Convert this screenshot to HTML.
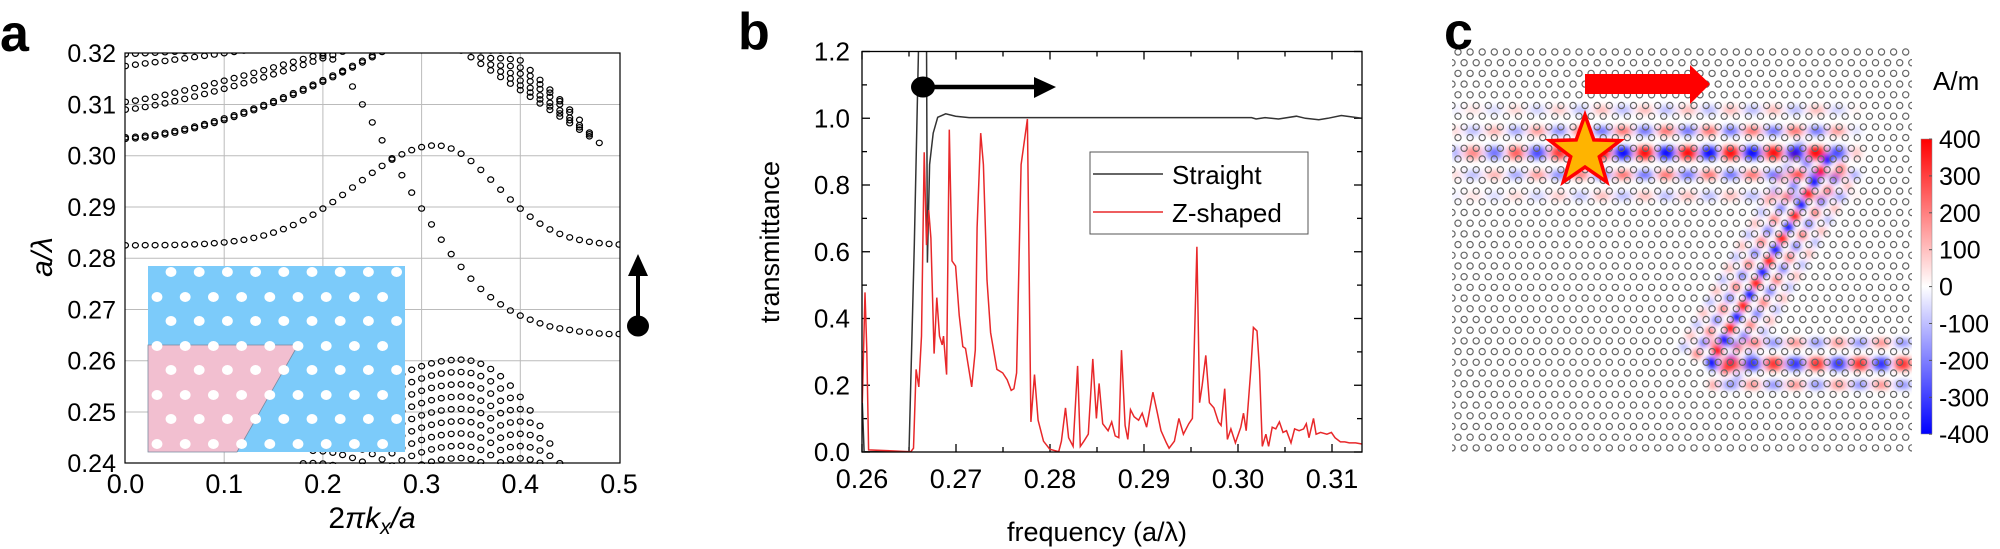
<!DOCTYPE html>
<html><head><meta charset="utf-8"><style>
html,body{margin:0;padding:0;background:#fff;overflow:hidden;width:2000px;height:549px;}
svg{display:block;font-family:"Liberation Sans",sans-serif;}
</style></head><body>
<svg id="s" width="2000" height="549" viewBox="0 0 2000 549" xmlns="http://www.w3.org/2000/svg">
<defs>
<clipPath id="ca"><rect x="125" y="53" width="495" height="411"/></clipPath>
<clipPath id="cb"><rect x="862" y="51" width="500" height="402"/></clipPath>
<clipPath id="cc"><rect x="1452" y="48" width="460" height="407"/></clipPath>
<filter id="bl" x="-50%" y="-50%" width="200%" height="200%"><feGaussianBlur stdDeviation="2.6"/></filter>
<linearGradient id="cbar" x1="0" y1="0" x2="0" y2="1">
<stop offset="0" stop-color="#ff0000"/><stop offset="0.5" stop-color="#ffffff"/><stop offset="1" stop-color="#0000ff"/>
</linearGradient>
</defs>
<g id="g"></g>
<text x="0" y="51" font-size="52" font-weight="bold">a</text>
<text x="738" y="49" font-size="52" font-weight="bold">b</text>
<text x="1444" y="49" font-size="52" font-weight="bold">c</text>
</svg>
<script>
var S=document.getElementById('g'),h='';
function X(k){return 125.5+k*987}function Y(w){return 463.2-(w-0.24)*5125}
for(var i=1;i<5;i++){h+='<line x1="'+X(i/10)+'" y1="53" x2="'+X(i/10)+'" y2="463" stroke="#bbb" stroke-width="1"/>';}
for(var i=1;i<8;i++){var y=Y(0.24+i*0.01);h+='<line x1="125" y1="'+y+'" x2="620" y2="'+y+'" stroke="#bbb" stroke-width="1"/>';}
var pts=[];
function add(k,w){pts.push([k,w]);}
for(var k=0;k<=0.5001;k+=0.01){var wd=k<0.315?0.115:0.085;add(k,0.2825+0.0195*Math.exp(-Math.pow((k-0.315)/wd,2)));}
var b2=[[0.20,0.3195],[0.21,0.3188],[0.22,0.3165],[0.23,0.3135],[0.24,0.310],[0.25,0.3065],[0.26,0.303],[0.27,0.2995],[0.28,0.2962],[0.29,0.2928],[0.30,0.2897],[0.31,0.2866],[0.32,0.2836],[0.33,0.2808],[0.34,0.2783],[0.35,0.276],[0.36,0.274],[0.37,0.2724],[0.38,0.271],[0.39,0.2698],[0.40,0.2688],[0.41,0.268],[0.42,0.2673],[0.43,0.2667],[0.44,0.2663],[0.45,0.266],[0.46,0.2657],[0.47,0.2655],[0.48,0.2653],[0.49,0.2652],[0.50,0.2652]];
b2.forEach(function(p){add(p[0],p[1]);});
for(var k=0;k<=0.30;k+=0.01){add(k,0.3033+0.018*Math.pow(k/0.27,1.6));add(k,0.3036+0.018*Math.pow(k/0.27,1.6));
add(k,0.309+0.010*Math.pow(k/0.2,1.3));add(k,0.3105+0.0095*Math.pow(k/0.2,1.2));add(k,0.3175+0.025*k);add(k,0.3198+0.01*k);}
[[0.34,0.48,0.3025],[0.35,0.475,0.3035],[0.36,0.47,0.3045],[0.37,0.46,0.307],[0.38,0.45,0.309],[0.39,0.44,0.311]].forEach(function(b){
for(var k=b[0];k<=b[1]+0.001;k+=0.01){var t=(k-b[0])/(b[1]-b[0]);add(k,0.3205-(0.3205-b[2])*t);}});
for(var i=0;i<9;i++){var wp=0.2602-0.0024*i;for(var k=0.17;k<=0.45;k+=0.01){var a=k<0.34?0.79:2.02;var w=wp-a*(k-0.34)*(k-0.34);if(w>=0.2395)add(k,w);}}
h+='<g clip-path="url(#ca)" fill="none" stroke="#000" stroke-width="1.2">';
pts.forEach(function(p){var y=Y(p[1]);h+='<ellipse cx="'+X(p[0]).toFixed(1)+'" cy="'+y.toFixed(1)+'" rx="3" ry="2.7"/>';});
h+='</g>';
h+='<rect x="148" y="266" width="257" height="186" fill="#7ccbfa"/>';
h+='<polygon points="148,345 298,345 237,452 148,452" fill="#f2bfd0" stroke="#7a8aa0" stroke-width="0.8"/>';
var rows=[272,297,321,346,370,395,419,444];
rows.forEach(function(y,r){var x0=r%2==0?171:157;for(var x=x0;x<=400;x+=28.2){h+='<ellipse cx="'+x.toFixed(1)+'" cy="'+y+'" rx="5.4" ry="5" fill="#fff"/>';}});
h+='<rect x="125" y="53" width="495" height="410" fill="none" stroke="#000" stroke-width="1.2"/>';
['0.24','0.25','0.26','0.27','0.28','0.29','0.30','0.31','0.32'].forEach(function(t,i){h+='<text x="116" y="'+(Y(0.24+i*0.01)+9)+'" font-size="25" text-anchor="end">'+t+'</text>';});
['0.0','0.1','0.2','0.3','0.4','0.5'].forEach(function(t,i){h+='<text x="'+X(i/10)+'" y="493" font-size="27" text-anchor="middle">'+t+'</text>';});
h+='<text x="372" y="528" font-size="30" text-anchor="middle">2<tspan font-style="italic">πk</tspan><tspan font-style="italic" font-size="21" dy="6">x</tspan><tspan font-style="italic" dy="-6">/a</tspan></text>';
h+='<text transform="translate(52,257) rotate(-90)" font-size="30" text-anchor="middle" font-style="italic">a/λ</text>';
h+='<line x1="638" y1="326" x2="638" y2="272" stroke="#000" stroke-width="4"/><polygon points="638,254 628,276 648,276" fill="#000"/><ellipse cx="638" cy="326" rx="11" ry="10.5" fill="#000"/>';
// panel b
function BX(zx){return 700+zx/2.23}function BY(zy){return zy/2.856}
function fx(f){return 862+(f-0.26)*9400}function ty(t){return 452-t*333.75}
for(var i=0;i<=12;i++){var y=ty(i*0.1),L=i%2==0?8:5;h+='<line x1="862" y1="'+y+'" x2="'+(862+L)+'" y2="'+y+'" stroke="#000" stroke-width="1.3"/><line x1="1362" y1="'+y+'" x2="'+(1362-L)+'" y2="'+y+'" stroke="#000" stroke-width="1.3"/>';}
for(var i=0;i<=10;i++){var x=fx(0.26+i*0.005),L=i%2==0?8:5;h+='<line x1="'+x+'" y1="452" x2="'+x+'" y2="'+(452-L)+'" stroke="#000" stroke-width="1.3"/><line x1="'+x+'" y1="51.5" x2="'+x+'" y2="'+(51.5+L)+'" stroke="#000" stroke-width="1.3"/>';}
var red=[[362,1150],[368,835],[372,1000],[376,1285],[470,1290],[476,1280],[482,1055],[488,1105],[494,960],[500,435],[505,700],[510,600],[515,680],[522,1010],[528,850],[534,960],[540,985],[543,960],[550,1070],[556,370],[562,745],[570,760],[578,900],[586,990],[592,995],[606,1105],[614,1000],[618,650],[626,380],[632,470],[640,800],[648,950],[662,1055],[675,1065],[685,1085],[694,1115],[700,1110],[706,1065],[716,470],[730,340],[738,1205],[746,1070],[754,1200],[766,1260],[780,1283],[800,1290],[806,1260],[815,1165],[822,1250],[832,1275],[842,1045],[848,1275],[856,1260],[866,1240],[876,1025],[884,1195],[890,1095],[898,1210],[910,1230],[918,1205],[926,1245],[934,1250],[940,1000],[948,1215],[954,1255],[960,1170],[968,1190],[978,1200],[986,1180],[996,1220],[1010,1120],[1020,1180],[1028,1230],[1040,1265],[1046,1280],[1058,1260],[1068,1195],[1078,1240],[1090,1210],[1098,1195],[1108,705],[1114,1150],[1120,1100],[1128,1015],[1136,1150],[1146,1165],[1156,1205],[1162,1215],[1170,1110],[1176,1255],[1184,1225],[1194,1265],[1206,1220],[1212,1180],[1218,1230],[1228,1060],[1234,935],[1242,945],[1248,1060],[1254,1275],[1262,1240],[1268,1275],[1276,1220],[1284,1225],[1292,1205],[1300,1235],[1308,1230],[1318,1265],[1326,1225],[1336,1230],[1346,1225],[1352,1210],[1358,1250],[1368,1195],[1374,1240],[1384,1235],[1398,1240],[1408,1235],[1416,1250],[1428,1262],[1438,1262],[1448,1265],[1462,1265],[1476,1268]];
var blk=[[362,1150],[366,1290],[466,1290],[478,700],[488,100],[505,100],[507,750],[512,470],[520,380],[530,335],[548,325],[570,332],[600,336],[1230,336],[1240,340],[1260,336],[1290,340],[1330,332],[1350,338],[1380,342],[1400,338],[1430,330],[1476,338]];
function pl(a){return a.map(function(p){return BX(p[0]).toFixed(1)+','+BY(p[1]).toFixed(1)}).join(' ');}
h+='<g clip-path="url(#cb)"><polyline points="'+pl(blk)+'" fill="none" stroke="#333" stroke-width="1.5"/><polyline points="'+pl(red)+'" fill="none" stroke="#e8282a" stroke-width="1.5"/></g>';
h+='<rect x="862" y="51.5" width="500" height="400.5" fill="none" stroke="#000" stroke-width="1.3"/>';
['0.0','0.2','0.4','0.6','0.8','1.0','1.2'].forEach(function(t,i){h+='<text x="850" y="'+(ty(i*0.2)+9)+'" font-size="26" text-anchor="end">'+t+'</text>';});
['0.26','0.27','0.28','0.29','0.30','0.31'].forEach(function(t,i){h+='<text x="'+fx(0.26+i*0.01)+'" y="488" font-size="27" text-anchor="middle">'+t+'</text>';});
h+='<text x="1097" y="541" font-size="27" text-anchor="middle">frequency (a/λ)</text>';
h+='<text transform="translate(779,242) rotate(-90)" font-size="27" text-anchor="middle">transmittance</text>';
h+='<rect x="1090" y="152" width="218" height="82" fill="#fff" stroke="#555" stroke-width="1"/>';
h+='<line x1="1093" y1="174" x2="1163" y2="174" stroke="#333" stroke-width="1.5"/><line x1="1093" y1="212" x2="1163" y2="212" stroke="#e8282a" stroke-width="1.5"/>';
h+='<text x="1172" y="184" font-size="26">Straight</text><text x="1172" y="222" font-size="26">Z-shaped</text>';
h+='<line x1="923" y1="87" x2="1040" y2="87" stroke="#000" stroke-width="4.5"/><polygon points="1056,87 1034,77 1034,98" fill="#000"/><ellipse cx="923" cy="87" rx="12" ry="10.5" fill="#000"/>';
// panel c field
var f='<g clip-path="url(#cc)"><g filter="url(#bl)">';
function blob(x,y,s,a,rx,ry){var c=s>0?'#ff0000':'#0000ff';f+='<ellipse cx="'+x.toFixed(1)+'" cy="'+y.toFixed(1)+'" rx="'+(rx||5)+'" ry="'+(ry||5)+'" fill="'+c+'" opacity="'+Math.min(1,a).toFixed(2)+'"/>';}
for(var x=1455;x<1870;x+=5){var ph=Math.sin(2*Math.PI*x/43),amp=x<1600?0.35+0.6*(x-1455)/145:(x>1825?Math.max(0,1-(x-1825)/40):1);
blob(x,153,ph,Math.abs(ph)*amp,3.5,7);
blob(x,131,-ph,Math.abs(ph)*amp*0.55,3.5,5);blob(x,175,-ph,Math.abs(ph)*amp*0.55,3.5,5);
blob(x,110,ph,Math.abs(ph)*amp*0.25,3.5,5);blob(x,196,ph,Math.abs(ph)*amp*0.25,3.5,5);}
var x0=1827,y0=160,x1=1711,y1=362,n=18;
for(var i=0;i<=n;i++){var t=i/n,x=x0+(x1-x0)*t,y=y0+(y1-y0)*t,s=i%2?1:-1;blob(x,y,s,1,5,5);blob(x+14,y+8,-s,0.5,5,5);blob(x-14,y-8,-s,0.5,5,5);blob(x+27,y+15,s,0.25,5,5);blob(x-27,y-15,s,0.25,5,5);}
for(var x=1712;x<1915;x+=5){var ph=Math.sin(2*Math.PI*x/43);blob(x,364,ph,Math.abs(ph)*0.8,3.5,7);blob(x,343,-ph,Math.abs(ph)*0.4,3.5,5);blob(x,385,-ph,Math.abs(ph)*0.4,3.5,5);}
f+='</g><g fill="none" stroke="#666" stroke-width="1.2">';
for(var r=0;r<38;r++){var y=52+r*10.7,o=(r%2==1)?0:6;for(var x=1452+o;x<1916;x+=12.1){f+='<circle cx="'+x.toFixed(1)+'" cy="'+y.toFixed(1)+'" r="3.1"/>';}}
f+='</g></g>';
h+=f;
var sp=[],cx=1585,cy=152;for(var i=0;i<10;i++){var R=i%2?15:37,a=-Math.PI/2+i*Math.PI/5;sp.push((cx+R*Math.cos(a)).toFixed(1)+','+(cy+R*Math.sin(a)).toFixed(1));}
h+='<polygon points="'+sp.join(' ')+'" fill="#ffb400" stroke="#f00" stroke-width="3.5"/>';
h+='<rect x="1585" y="74" width="108" height="20" fill="#f00"/><polygon points="1690,65 1710,84 1690,104" fill="#f00"/>';
h+='<rect x="1921" y="139" width="11" height="295" fill="url(#cbar)" stroke="#888" stroke-width="0.5"/>';
['400','300','200','100','0','-100','-200','-300','-400'].forEach(function(t,i){var y=139+i*36.9;h+='<line x1="1929" y1="'+y+'" x2="1932" y2="'+y+'" stroke="#555"/><text x="1939" y="'+(y+9)+'" font-size="25">'+t+'</text>';});
h+='<text x="1933" y="90" font-size="26">A/m</text>';
S.innerHTML=h;
</script>
</body></html>
